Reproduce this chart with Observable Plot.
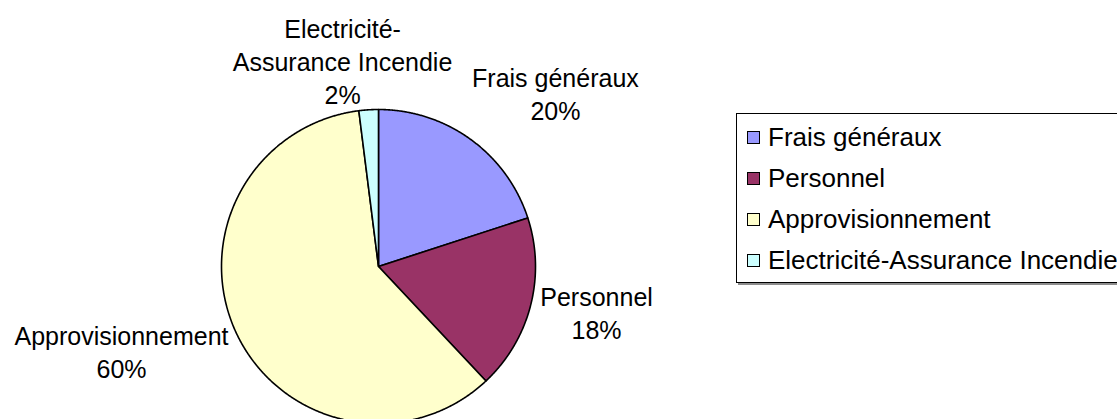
<!DOCTYPE html>
<html>
<head>
<meta charset="utf-8">
<script src="https://cdn.jsdelivr.net/npm/d3@7"></script>
<script src="https://cdn.jsdelivr.net/npm/@observablehq/plot@0.6"></script>
<style>
  html, body { margin: 0; padding: 0; background: #fff; overflow: hidden; }
  #wrap { position: relative; width: 1117px; height: 419px; }
  #chart svg { display: block; }
  #legend { position: absolute; left: 736px; top: 113px; width: 420px; height: 168px;
            border: 1px solid #000; background: #fff; box-shadow: 2px 2px 0 #8c8c8c;
            font-family: Arial, "Liberation Sans", sans-serif; font-size: 26px; color: #000; }
  .row { position: absolute; left: 10px; height: 30px; display: flex; align-items: center; white-space: nowrap; }
  .sw { width: 11px; height: 11px; border: 1.5px solid #000; margin-right: 8px; }
</style>
</head>
<body>
<div id="wrap">
  <div id="chart"></div>
  <div id="legend"></div>
</div>
<script>
// ---- data ----
const categories = ["Frais généraux", "Personnel", "Approvisionnement", "Electricité-Assurance Incendie"];
const values = [20, 18, 60, 2];
const percentLabels = ["20%", "18%", "60%", "2%"];
const labelNames = ["Frais généraux", "Personnel", "Approvisionnement", "Electricité-\nAssurance Incendie"];
const colors = ["#9999FF", "#993366", "#FFFFCC", "#CCFFFF"];
// label anchor positions in pie-radius units (centre = 0,0)
const labelX = [1.127, 1.389, -1.637, -0.229];
const labelY = [1.108, -0.287, -0.535, 1.312];

// ---- geometry ----
const W = 1117, H = 419, R = 157, CX = 378, CY = 266;
const arcs = d3.pie().sort(null).value(d => d)(values);
const slicePts = [];
arcs.forEach((a, i) => {
  slicePts.push({cat: categories[i], x: 0, y: 0});
  const n = Math.max(2, Math.ceil((a.endAngle - a.startAngle) / 0.005));
  for (let k = 0; k <= n; k++) {
    const t = a.startAngle + (a.endAngle - a.startAngle) * k / n;
    slicePts.push({cat: categories[i], x: Math.sin(t), y: Math.cos(t)});
  }
});
const labels = categories.map((c, i) => ({x: labelX[i], y: labelY[i], text: labelNames[i] + "\n" + percentLabels[i]}));

const chart = Plot.plot({
  width: W, height: H,
  margin: 0,
  x: {domain: [-CX / R, (W - CX) / R], axis: null},
  y: {domain: [-(H - CY) / R, CY / R], axis: null},
  color: {domain: categories, range: colors},
  style: {fontFamily: "Arial, 'Liberation Sans', sans-serif", background: "#fff"},
  marks: [
    Plot.line(slicePts, {x: "x", y: "y", z: "cat", fill: "cat", stroke: "#000", strokeWidth: 1.6, curve: "linear-closed", strokeLinejoin: "round"}),
    Plot.text(labels, {x: "x", y: "y", text: "text", fontSize: 25, lineHeight: 1.32, fill: "#000", textAnchor: "middle"})
  ]
});
document.getElementById("chart").appendChild(chart);

// ---- legend ----
const legend = document.getElementById("legend");
const rowCenters = [23, 64, 105, 146];
categories.forEach((c, i) => {
  const row = document.createElement("div");
  row.className = "row";
  row.style.top = (rowCenters[i] - 15) + "px";
  const sw = document.createElement("div");
  sw.className = "sw";
  sw.style.background = colors[i];
  const tx = document.createElement("span");
  tx.textContent = c;
  row.appendChild(sw); row.appendChild(tx);
  legend.appendChild(row);
});
</script>
</body>
</html>
